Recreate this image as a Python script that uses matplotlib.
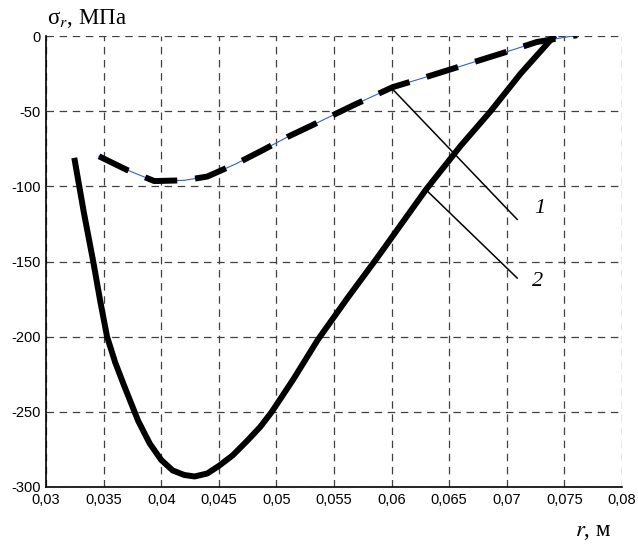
import matplotlib
matplotlib.use('Agg')
import matplotlib.pyplot as plt

# Радиальные напряжения, кривая 1 (штриховая)
r1 = [0.0346, 0.0370, 0.0394, 0.0420, 0.0440, 0.0465, 0.0488, 0.0510, 0.0532, 0.0567,
      0.0601, 0.0627, 0.0652, 0.0677, 0.0700, 0.0726, 0.0761]
s1 = [-80, -89, -96.5, -96, -93.5, -85, -76, -67, -59, -46,
      -34, -28, -22, -16, -10.5, -4, 0.5]

# Радиальные напряжения, кривая 2 (сплошная)
r2 = [0.0325, 0.0333, 0.0341, 0.0347, 0.0353, 0.0360, 0.0367, 0.0380, 0.0390, 0.0400,
      0.0410, 0.0420, 0.0429, 0.0440, 0.0450, 0.0462, 0.0475, 0.0486, 0.0496, 0.0515,
      0.0536, 0.0562, 0.0588, 0.0630, 0.0660, 0.0686, 0.0712, 0.0740]
s2 = [-83, -118, -150, -176, -200, -217, -231, -256, -271, -282,
      -289, -292, -293, -291, -286, -279, -269, -260, -250, -228,
      -202, -174, -147, -102, -73, -50, -25, -1]

x_ticks = [0.03, 0.035, 0.04, 0.045, 0.05, 0.055, 0.06, 0.065, 0.07, 0.075, 0.08]
x_labels = ['0,03', '0,035', '0,04', '0,045', '0,05', '0,055', '0,06', '0,065', '0,07', '0,075', '0,08']
y_ticks = [0, -50, -100, -150, -200, -250, -300]
y_labels = ['0', '-50', '-100', '-150', '-200', '-250', '-300']

plt.rcParams['mathtext.fontset'] = 'stix'
plt.rcParams['font.family'] = 'Liberation Sans'

fig = plt.figure(figsize=(6.38, 5.48), dpi=100)
ax = fig.add_axes([46 / 638, 1 - 487 / 548, 576 / 638, 451 / 548])

blue = '#3a5fcd'
ax.plot(r1, s1, color=blue, lw=0.8, zorder=2)
ax.plot(r2, s2, color=blue, lw=0.8, zorder=2)
ax.plot(r1, s1, color='black', lw=4.3, dashes=[5.5, 3.0], dash_capstyle='butt',
        dash_joinstyle='round', zorder=3)
ax.plot(r2, s2, color='black', lw=4.3, solid_joinstyle='round', zorder=3)

# выноски к кривым
ax.plot([0.0600, 0.0709], [-34.7, -122], color='black', lw=1.1, zorder=4)
ax.plot([0.0630, 0.0709], [-102.4, -161], color='black', lw=1.1, zorder=4)
ax.text(0.0729, -115, '1', family='Liberation Serif', style='italic', fontsize=16,
        ha='center', va='center')
ax.text(0.0727, -163, '2', family='Liberation Serif', style='italic', fontsize=16,
        ha='center', va='center')

ax.set_xlim(0.03, 0.08)
ax.set_ylim(-300, 0)
ax.set_xticks(x_ticks)
ax.set_xticklabels(x_labels)
ax.set_yticks(y_ticks)
ax.set_yticklabels(y_labels)
ax.tick_params(length=0, labelsize=10.5, pad=4)

ax.grid(True, color='#404040', lw=0.9, linestyle=(0, (6, 4.5)))
ax.spines['top'].set_visible(False)
ax.spines['right'].set_visible(False)
for s in ('left', 'bottom'):
    ax.spines[s].set_linewidth(1.2)

fig.text(47 / 638, 1 - 24 / 548, 'σ$_{r}$, МПа', family='Liberation Serif', fontsize=16.5,
         ha='left', va='baseline')
fig.text(611 / 638, 1 - 536 / 548, '$r$, м', family='Liberation Serif', fontsize=16.5,
         ha='right', va='baseline')

fig.savefig('out.png', dpi=100)
